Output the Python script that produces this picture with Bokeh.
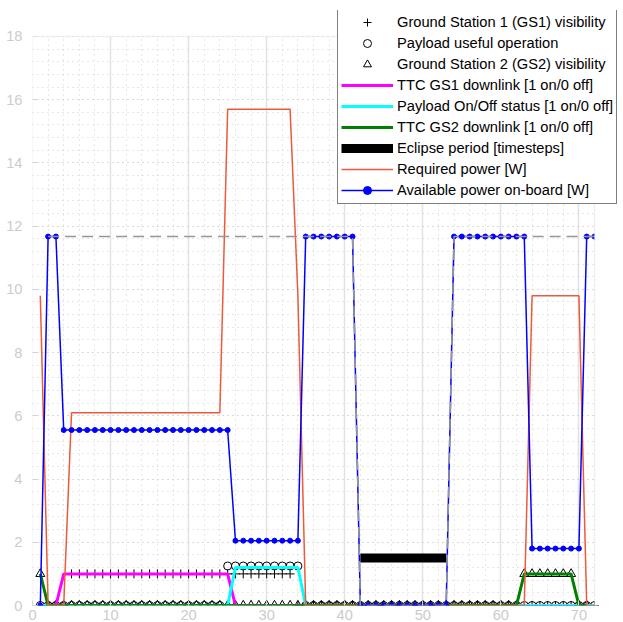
from bokeh.plotting import figure
from bokeh.models import Range1d, SingleIntervalTicker, Legend, LegendItem, BoxAnnotation
from bokeh.embed import file_html
from bokeh.resources import INLINE

nan = float("nan")

# ---------------- data ----------------
timestep = list(range(1, 73))

gs1_visibility = [0, 0, 0, 0,
                  1, 1, 1, 1, 1, 1, 1, 1, 1, 1, 1, 1, 1, 1, 1, 1, 1, 1, 1, 1, 1, 1, 1, 1, 1, 1, 1, 1, 1,
                  0, 0, 0, 0, 0, 0, 0, 0, 0, 0, 0, 0, 0, 0, 0, 0, 0, 0, 0, 0, 0, 0, 0, 0, 0, 0, 0, 0,
                  0, 0, 0, 0, 0, 0, 0, 0, 0, 0, 0, 0, 0, 0]

payload_useful = [0, 0, 0, 0, 0, 0, 0, 0, 0, 0, 0, 0, 0, 0, 0, 0, 0, 0, 0, 0, 0, 0, 0, 0,
                  1.25, 1.25, 1.25, 1.25, 1.25, 1.25, 1.25, 1.25, 1.25, 1.25,
                  0, 0, 0, 0, 0, 0, 0, 0, 0, 0, 0, 0, 0, 0, 0, 0, 0, 0, 0, 0, 0, 0, 0, 0, 0,
                  0, 0, 0, 0, 0, 0, 0, 0, 0, 0, 0, 0, 0]

gs2_visibility = [1,
                  0, 0, 0, 0, 0, 0, 0, 0, 0, 0, 0, 0, 0, 0, 0, 0, 0, 0, 0, 0, 0, 0, 0, 0, 0, 0, 0, 0, 0, 0, 0,
                  0, 0, 0, 0, 0, 0, 0, 0, 0, 0, 0, 0, 0, 0, 0, 0, 0, 0, 0, 0, 0, 0, 0, 0, 0, 0, 0, 0, 0, 0,
                  1, 1, 1, 1, 1, 1, 1,
                  0, 0]

ttc_gs1_downlink = [0, 0, 0,
                    1, 1, 1, 1, 1, 1, 1, 1, 1, 1, 1, 1, 1, 1, 1, 1, 1, 1, 1, 1, 1, 1,
                    0, 0, 0, 0, 0, 0, 0, 0, 0, 0, 0, 0, 0, 0, 0, 0, 0, 0, 0, 0, 0, 0, 0, 0,
                    0, 0, 0, 0, 0, 0, 0, 0, 0, 0, 0, 0, 0, 0, 0, 0, 0, 0, 0, 0, 0, 0, 0]

payload_status = [0, 0, 0, 0, 0, 0, 0, 0, 0, 0, 0, 0, 0, 0, 0, 0, 0, 0, 0, 0, 0, 0, 0, 0, 0,
                  1.2, 1.2, 1.2, 1.2, 1.2, 1.2, 1.2, 1.2, 1.2,
                  0, 0, 0, 0, 0, 0, 0, 0, 0, 0, 0, 0, 0, 0, 0, 0, 0, 0, 0, 0, 0, 0, 0, 0, 0,
                  0, 0, 0, 0, 0, 0, 0, 0, 0, 0, 0, 0, 0]

ttc_gs2_downlink = [1,
                    0, 0, 0, 0, 0, 0, 0, 0, 0, 0, 0, 0, 0, 0, 0, 0, 0, 0, 0, 0, 0, 0, 0, 0, 0, 0, 0, 0, 0, 0, 0,
                    0, 0, 0, 0, 0, 0, 0, 0, 0, 0, 0, 0, 0, 0, 0, 0, 0, 0, 0, 0, 0, 0, 0, 0, 0, 0, 0, 0, 0, 0,
                    1, 1, 1, 1, 1, 1, 1,
                    0, 0]

eclipse = [nan, nan, nan, nan, nan, nan, nan, nan, nan, nan, nan, nan, nan, nan, nan, nan, nan, nan, nan, nan,
           nan, nan, nan, nan, nan, nan, nan, nan, nan, nan, nan, nan, nan, nan, nan, nan, nan, nan, nan, nan, nan,
           1.5, 1.5, 1.5, 1.5, 1.5, 1.5, 1.5, 1.5, 1.5, 1.5, 1.5, 1.5,
           nan, nan, nan, nan, nan, nan, nan, nan, nan, nan, nan, nan, nan, nan, nan, nan, nan, nan, nan]

required_power = [9.8,
                  0, 0, 0,
                  6.1, 6.1, 6.1, 6.1, 6.1, 6.1, 6.1, 6.1, 6.1, 6.1, 6.1, 6.1, 6.1, 6.1, 6.1, 6.1, 6.1, 6.1, 6.1, 6.1,
                  15.7, 15.7, 15.7, 15.7, 15.7, 15.7, 15.7, 15.7, 15.7,
                  9.8,
                  0, 0, 0, 0, 0, 0, 0, 0, 0, 0, 0, 0, 0, 0, 0, 0, 0, 0, 0, 0, 0, 0, 0, 0, 0, 0, 0, 0, 0,
                  9.8, 9.8, 9.8, 9.8, 9.8, 9.8, 9.8,
                  0, 0]

available_power = [0,
                   11.67, 11.67,
                   5.55, 5.55, 5.55, 5.55, 5.55, 5.55, 5.55, 5.55, 5.55, 5.55, 5.55,
                   5.55, 5.55, 5.55, 5.55, 5.55, 5.55, 5.55, 5.55, 5.55, 5.55, 5.55,
                   2.05, 2.05, 2.05, 2.05, 2.05, 2.05, 2.05, 2.05, 2.05,
                   11.67, 11.67, 11.67, 11.67, 11.67, 11.67, 11.67,
                   0, 0, 0, 0, 0, 0, 0, 0, 0, 0, 0, 0,
                   11.67, 11.67, 11.67, 11.67, 11.67, 11.67, 11.67, 11.67, 11.67, 11.67,
                   1.8, 1.8, 1.8, 1.8, 1.8, 1.8, 1.8,
                   11.67, 11.67]

max_power = [nan,
             11.67, 11.67, 11.67, 11.67, 11.67, 11.67, 11.67, 11.67, 11.67, 11.67,
             11.67, 11.67, 11.67, 11.67, 11.67, 11.67, 11.67, 11.67, 11.67, 11.67,
             11.67, 11.67, 11.67, 11.67, 11.67, 11.67, 11.67, 11.67, 11.67, 11.67,
             11.67, 11.67, 11.67, 11.67, 11.67, 11.67, 11.67, 11.67, 11.67, 11.67,
             0, 0, 0, 0, 0, 0, 0, 0, 0, 0, 0, 0,
             11.67, 11.67, 11.67, 11.67, 11.67, 11.67, 11.67, 11.67, 11.67, 11.67,
             11.67, 11.67, 11.67, 11.67, 11.67, 11.67, 11.67, 11.67, 11.67]

legend_labels = ["Ground Station 1 (GS1) visibility",
                 "Payload useful operation",
                 "Ground Station 2 (GS2) visibility",
                 "TTC GS1 downlink [1 on/0 off]",
                 "Payload On/Off status [1 on/0 off]",
                 "TTC GS2 downlink [1 on/0 off]",
                 "Eclipse period [timesteps]",
                 "Required power [W]",
                 "Available power on-board [W]"]

# visible axes box (data units)
X_MAX = 72
Y_MAX = 18

# ---------------- figure ----------------
FONT = "Liberation Sans"
LIGHT = "#d4d4d4"

# the frame is larger than the visible axes box so the legend can overhang it
p = figure(width=620, height=622, x_range=Range1d(0, 75.2), y_range=Range1d(0, 18.82),
           output_backend="svg", toolbar_location=None,
           min_border_left=32, min_border_right=1, min_border_top=10, min_border_bottom=10)
p.background_fill_color = "white"
p.border_fill_color = "white"
p.outline_line_color = None

xticker = SingleIntervalTicker(interval=10, num_minor_ticks=5)
yticker = SingleIntervalTicker(interval=2, num_minor_ticks=5)
p.xaxis.ticker = xticker
p.yaxis.ticker = yticker
p.xgrid.ticker = xticker
p.ygrid.ticker = yticker

p.xgrid.grid_line_color = "#e2e2e2"
p.xgrid.grid_line_width = 1.5
p.xgrid.minor_grid_line_color = "#cfcfcf"
p.xgrid.minor_grid_line_dash = "1 4"
p.ygrid.grid_line_color = "#cfcfcf"
p.ygrid.grid_line_dash = "1 4"
p.ygrid.minor_grid_line_color = "#cfcfcf"
p.ygrid.minor_grid_line_dash = "1 4"

for ax in (p.xaxis[0], p.yaxis[0]):
    ax.axis_line_color = None
    ax.major_tick_line_color = LIGHT
    ax.major_tick_in = 5
    ax.major_tick_out = 0
    ax.minor_tick_line_color = None
    ax.major_label_text_color = "#cccccc"
    ax.major_label_text_font = FONT
    ax.major_label_text_font_size = "14.67px"
p.xaxis[0].major_label_standoff = 0
p.yaxis[0].major_label_standoff = 6

# ---------------- glyphs ----------------
r_gs1 = p.scatter(timestep, gs1_visibility, marker="cross", size=9,
                  line_color="black", line_width=1)
r_pay = p.scatter(timestep, payload_useful, marker="circle", size=8,
                  line_color="black", fill_alpha=0, line_width=1)
r_gs2 = p.scatter(timestep, gs2_visibility, marker="triangle", size=9,
                  line_color="black", fill_alpha=0, line_width=1)
r_ttc1 = p.line(timestep, ttc_gs1_downlink, line_color="#ff00ff", line_width=3)
r_pst = p.line(timestep, payload_status, line_color="#00ffff", line_width=3)
r_ttc2 = p.line(timestep, ttc_gs2_downlink, line_color="#008000", line_width=3)
r_ecl = p.line(timestep, eclipse, line_color="black", line_width=9)
r_req = p.line(timestep, required_power, line_color="#ec5a3a", line_width=1.5)
r_av = p.line(timestep, available_power, line_color="#0000ff", line_width=1.5)
r_avp = p.scatter(timestep, available_power, marker="circle", size=5,
                  line_color="#0000ff", fill_color="#0000ff")
r_max = p.line(timestep, max_power, line_color="#969696", line_width=1.5, line_dash="11 6")

# blank the overhang outside the visible axes box, then draw the box edge
p.add_layout(BoxAnnotation(bottom=Y_MAX, fill_color="white", fill_alpha=1, line_color=None))
p.add_layout(BoxAnnotation(left=X_MAX, fill_color="white", fill_alpha=1, line_color=None))
p.add_layout(BoxAnnotation(left=0, right=X_MAX, bottom=0, top=Y_MAX, fill_alpha=0,
                           line_color=LIGHT, line_width=1.5))

renderer_groups = [[r_gs1], [r_pay], [r_gs2], [r_ttc1], [r_pst], [r_ttc2], [r_ecl], [r_req], [r_av, r_avp]]
items = [LegendItem(label=lab, renderers=rs) for lab, rs in zip(legend_labels, renderer_groups)]

legend = Legend(items=items, location=(305, 401), margin=0, padding=3, spacing=1,
                glyph_width=52, glyph_height=20, label_height=20, label_standoff=4,
                label_text_font=FONT, label_text_font_size="14.67px", label_text_color="black",
                border_line_color="black", border_line_width=1,
                background_fill_color="white", background_fill_alpha=1.0)
p.add_layout(legend)

open("out.html", "w").write(file_html(p, INLINE))
